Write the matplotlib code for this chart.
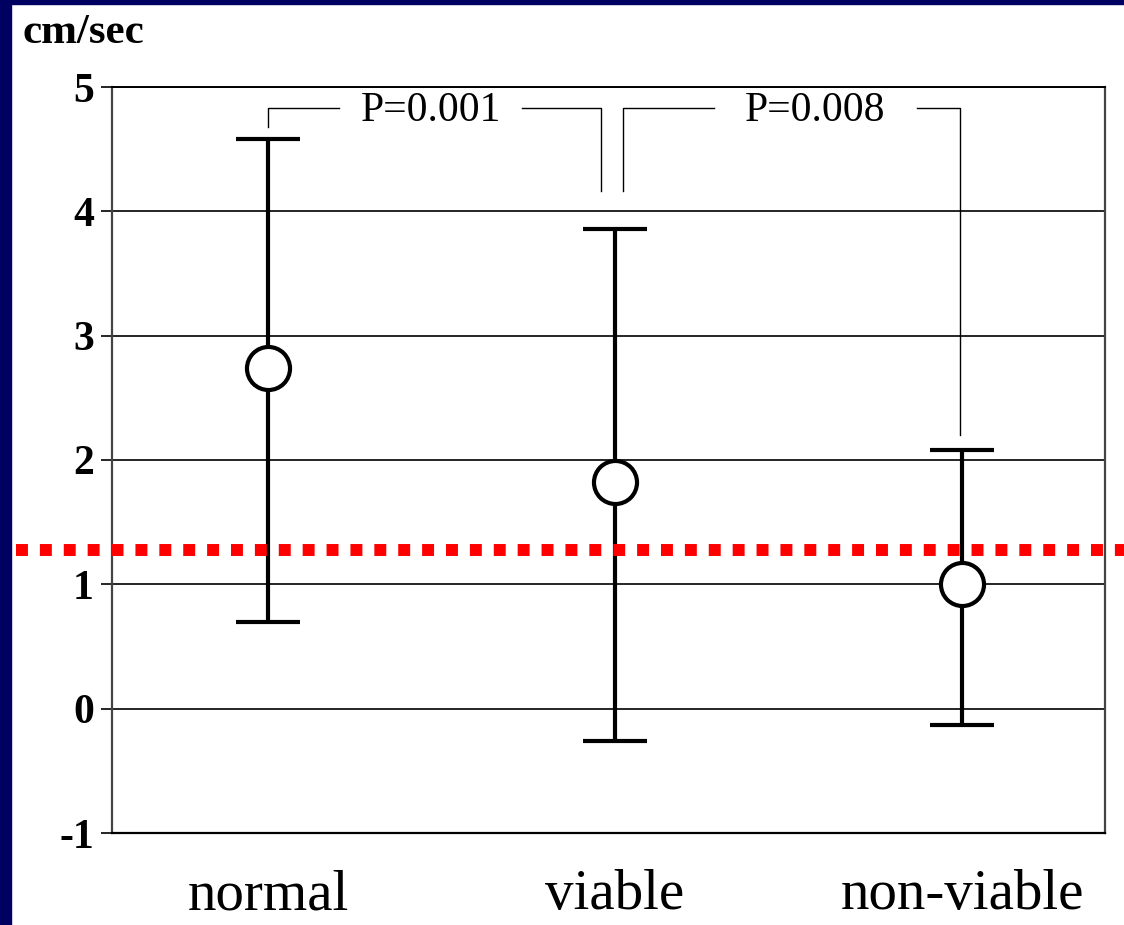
import matplotlib
matplotlib.use('Agg')
import matplotlib.pyplot as plt
from matplotlib.patches import Rectangle
from matplotlib.transforms import blended_transform_factory

# data
groups = ['normal', 'viable', 'non-viable']
means = [2.74, 1.82, 1.00]
upper = [4.58, 3.86, 2.08]
lower = [0.70, -0.26, -0.13]
cutoff = 1.28
y_ticks = [-1, 0, 1, 2, 3, 4, 5]

# significance brackets: (left x, right x, top y, left foot, right foot, gap start, gap end, label)
brackets = [
    (0.0, 0.96, 4.83, 4.68, 4.16, 0.205, 0.732, 'P=0.001'),
    (1.023, 1.995, 4.83, 4.16, 2.20, 1.285, 1.87, 'P=0.008'),
]

serif = ['Liberation Serif', 'DejaVu Serif']

fig = plt.figure(figsize=(11.24, 9.25), dpi=100, facecolor='white')
# dark blue frame on the left and top
fig.patches.append(Rectangle((0, 0), 11 / 1124, 1, transform=fig.transFigure,
                             color='#000060', zorder=-1))
fig.patches.append(Rectangle((0, 1 - 4 / 925), 1, 4 / 925, transform=fig.transFigure,
                             color='#000060', zorder=-1))

ax = fig.add_axes([112 / 1124, 1 - 833 / 925, (1105 - 112) / 1124, (833 - 87) / 925])
ax.set_xlim(-0.45, 2.412)
ax.set_ylim(-1, 5)

for yv in y_ticks[1:]:
    ax.axhline(yv, color='black', lw=1.2, zorder=1)

x = list(range(len(groups)))
ax.errorbar(x, means, yerr=[[m - l for m, l in zip(means, lower)],
                            [u - m for m, u in zip(means, upper)]],
            fmt='o', ms=31, mfc='white', mec='black', mew=3,
            ecolor='black', elinewidth=3, capsize=23, capthick=3, zorder=5)

# cut-off line running across the whole picture
trans = blended_transform_factory(fig.transFigure, ax.transData)
ax.plot([16 / 1124, 1.0], [cutoff, cutoff], transform=trans, clip_on=False,
        color='#ff0000', lw=8.6, dashes=(1, 1), dash_capstyle='butt', zorder=6)

for x0, x1, yt, yl, yr, g0, g1, label in brackets:
    ax.plot([x0, x0, g0], [yl, yt, yt], color='black', lw=1.0, zorder=3)
    ax.plot([g1, x1, x1], [yt, yt, yr], color='black', lw=1.0, zorder=3)
    ax.text((g0 + g1) / 2, yt - 0.02, label, ha='center', va='center', fontsize=30,
            family=serif, zorder=4)

ax.set_yticks(y_ticks)
ax.set_yticklabels([str(v) for v in y_ticks], family=serif, fontweight='bold',
                   fontsize=30)
ax.tick_params(axis='y', length=8, width=1.2, pad=5)
ax.set_xticks(x)
ax.set_xticklabels(groups, family=serif, fontsize=41)
ax.tick_params(axis='x', length=0, pad=26)

for side in ['left', 'right']:
    ax.spines[side].set_color('#444444')
    ax.spines[side].set_linewidth(1.6)
ax.spines['bottom'].set_linewidth(1.6)
ax.spines['top'].set_linewidth(1.4)

fig.text(22 / 1124, 1 - 43 / 925, 'cm/sec', family=serif, fontweight='bold',
         fontsize=31, va='baseline', ha='left')

fig.savefig('out.png', dpi=100, facecolor='white')
